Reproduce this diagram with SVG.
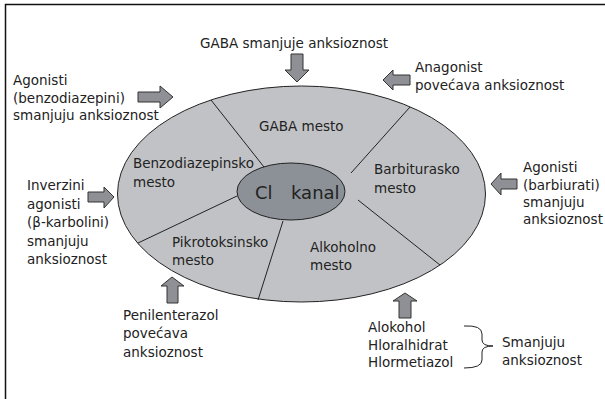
<svg xmlns="http://www.w3.org/2000/svg" width="605" height="399" viewBox="0 0 605 399">
<style>
text{font-family:"DejaVu Sans","Liberation Sans",sans-serif;font-size:13.5px;fill:#222}
.arr{fill:#8e9095;stroke:#333;stroke-width:1}
.div{stroke:#222;stroke-width:1;fill:none}
</style>
<rect width="605" height="399" fill="#fff"/>
<rect x="5.5" y="4.5" width="620" height="420" fill="none" stroke="#111" stroke-width="1.5"/>
<g id="receptor">
<ellipse cx="301.5" cy="194" rx="184" ry="108" fill="#c1c2c5" stroke="#222" stroke-width="1"/>
<line class="div" x1="211" y1="100" x2="264" y2="167"/>
<line class="div" x1="410" y1="107" x2="351" y2="173"/>
<line class="div" x1="358" y1="200" x2="440" y2="265"/>
<line class="div" x1="283" y1="221" x2="258" y2="300"/>
<line class="div" x1="138" y1="243" x2="237" y2="196"/>
</g>
<g id="cl-kanal">
<ellipse cx="291" cy="191.5" rx="54" ry="28.5" fill="#8c9197" stroke="#222" stroke-width="1"/>
<text y="199" style="font-size:18px"><tspan x="255">Cl</tspan><tspan x="291">kanal</tspan></text>
</g>
<g id="gaba-mesto"><text x="259" y="131">GABA mesto</text></g>
<g id="benzo-mesto"><text x="133" y="168">Benzodiazepinsko</text><text x="133" y="187">mesto</text></g>
<g id="barbi-mesto"><text x="374" y="174">Barbiturasko</text><text x="374" y="193">mesto</text></g>
<g id="pikro-mesto"><text x="172" y="247">Pikrotoksinsko</text><text x="172" y="265">mesto</text></g>
<g id="alko-mesto"><text x="310" y="252">Alkoholno</text><text x="310" y="270">mesto</text></g>
<g id="gaba"><text x="200" y="48">GABA smanjuje anksioznost</text></g>
<g id="agonisti-benzo"><text x="13" y="85">Agonisti</text><text x="13" y="103">(benzodiazepini)</text><text x="13" y="120">smanjuju anksioznost</text></g>
<g id="anagonist"><text x="415" y="72">Anagonist</text><text x="415" y="90">povećava anksioznost</text></g>
<g id="agonisti-barbi"><text x="523" y="172">Agonisti</text><text x="523" y="190">(barbiurati)</text><text x="523" y="207">smanjuju</text><text x="523" y="224">anksioznost</text></g>
<g id="inverzini"><text x="27" y="190">Inverzini</text><text x="27" y="208.5">agonisti</text><text x="27" y="227">(β-karbolini)</text><text x="27" y="245.5">smanjuju</text><text x="27" y="264">anksioznost</text></g>
<g id="penilenterazol"><text x="123" y="320">Penilenterazol</text><text x="123" y="338">povećava</text><text x="123" y="357">anksioznost</text></g>
<g id="alkohol"><text x="368" y="332">Alokohol</text><text x="368" y="350">Hloralhidrat</text><text x="368" y="367">Hlormetiazol</text></g>
<g id="smanjuju"><text x="502" y="347">Smanjuju</text><text x="502" y="365">anksioznost</text></g>
<g id="connectors">
<polygon class="arr" points="291,54 303,54 303,70 309,70 297,82 285,70 291,70"/>
<polygon class="arr" points="138,92 160,92 160,86 173,97 160,108 160,102 138,102"/>
<polygon class="arr" points="88,192 104,192 104,187 114,197 104,208 104,202 88,202"/>
<polygon class="arr" points="410,75 393,75 393,70 383,80 393,90 393,85 410,85"/>
<polygon class="arr" points="517,179 501,179 501,173 491,184 501,195 501,189 517,189"/>
<polygon class="arr" points="167,303 167,286 161,286 172,277 184,286 178,286 178,303"/>
<polygon class="arr" points="399,318 399,301 393,301 405,293 417,301 411,301 411,318"/>
<path d="M464,326 Q482,325 482,334 L482,340 Q482,346 493,346 Q482,346 482,352 L482,360 Q482,368 464,368" fill="none" stroke="#222" stroke-width="1"/>
</g>
</svg>
